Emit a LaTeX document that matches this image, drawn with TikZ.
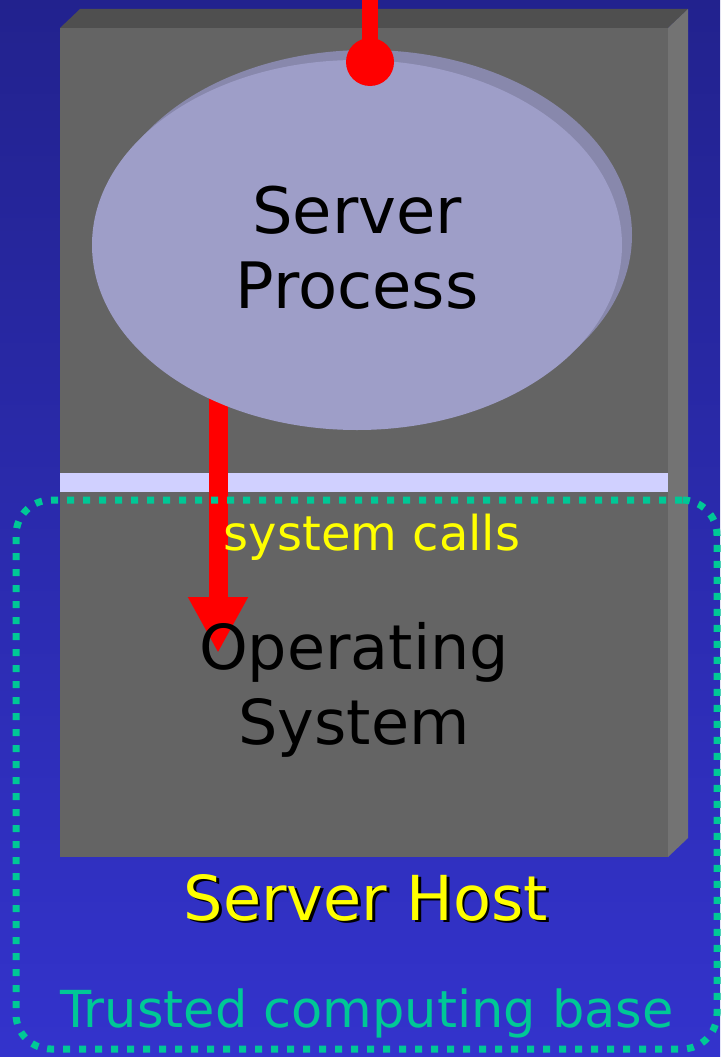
\documentclass[tikz,border=0pt]{standalone}
\usepackage{fontspec}
\setmainfont{DejaVu Sans}
\usetikzlibrary{shapes.geometric,arrows.meta}
\definecolor{bgtop}{RGB}{34,34,142}
\definecolor{bgbot}{RGB}{51,51,204}
\definecolor{boxfront}{RGB}{100,100,100}
\definecolor{boxtop}{RGB}{79,79,79}
\definecolor{boxside}{RGB}{115,115,115}
\definecolor{stripecol}{RGB}{208,208,255}
\definecolor{ellface}{RGB}{158,158,200}
\definecolor{ellshadow}{RGB}{136,136,172}
\definecolor{tcb}{RGB}{0,200,150}
\definecolor{hostyellow}{RGB}{255,255,0}
\definecolor{redcol}{RGB}{255,0,0}
\newcommand{\shadowtext}[1]{\rlap{\kern2.5pt\raisebox{-2.5pt}{\color{black}#1}}#1}
\tikzset{
  panel/.style={fill=boxfront, inner sep=0pt, outer sep=0pt, draw=none},
  procell/.style={ellipse, inner sep=0pt, minimum width=530pt, minimum height=370pt},
  bigtext/.style={font=\fontsize{64}{75}\selectfont, align=center, inner sep=0pt},
  yellowtext/.style={text=hostyellow, inner sep=0pt},
  redline/.style={draw=redcol, line cap=butt},
  tcbframe/.style={draw=tcb, line width=7pt, dash pattern=on 7pt off 9pt, rounded corners=35pt, inner sep=0pt, minimum width=701pt, minimum height=549pt}
}
\begin{document}
\begin{tikzpicture}[x=1pt,y=-1pt]
\useasboundingbox (0,0) rectangle (720,1057);
\shade[top color=bgtop, bottom color=bgbot] (0,0) rectangle (720,1057);
% box faces
\fill[boxtop] (60,28) -- (80,9) -- (688,9) -- (668,28) -- cycle;
\fill[boxside] (668,28) -- (688,9) -- (688,838) -- (668,857) -- cycle;
\node[panel, anchor=north west, minimum width=608pt, minimum height=829pt] (host) at (60,28) {};
\node[fill=stripecol, inner sep=0pt, anchor=north west, minimum width=608pt, minimum height=19pt] (stripe) at (60,473) {};
% system call arrow
\coordinate (astart) at (218,380);
\coordinate (atip) at (218,653);
\draw[redline, line width=19pt, -{Triangle[width=56pt,length=56pt]}] (astart) -- (atip);
% process ellipse
\node[procell, fill=ellshadow] (procshadow) at (367,235) {};
\node[procell, fill=ellface] (proc) at (357,245) {};
\node[bigtext] (proctext) at (357,248) {Server\\Process};
% incoming connection
\coordinate (stemtop) at (370,0);
\node[circle, fill=redcol, minimum size=48pt, inner sep=0pt] (dot) at (370,62) {};
\draw[redline, line width=16.5pt] (stemtop) -- (dot.center);
% texts
\node[bigtext, font=\fontsize{62}{75}\selectfont] (ostext) at (354,690) {Operating\\System};
\node[yellowtext, font=\fontsize{48}{58}\selectfont, anchor=base] (calls) at (372,550) {system calls};
\node[yellowtext, font=\fontsize{62}{72}\selectfont, anchor=base] (hostlabel) at (366,920) {\shadowtext{Server Host}};
% trusted computing base frame
\node[tcbframe] (tcbbox) at (366.5,774.5) {};
\node[text=tcb, inner sep=0pt, font=\fontsize{51}{60}\selectfont, anchor=base] (tcblabel) at (367,1027) {Trusted computing base};
\end{tikzpicture}
\end{document}
